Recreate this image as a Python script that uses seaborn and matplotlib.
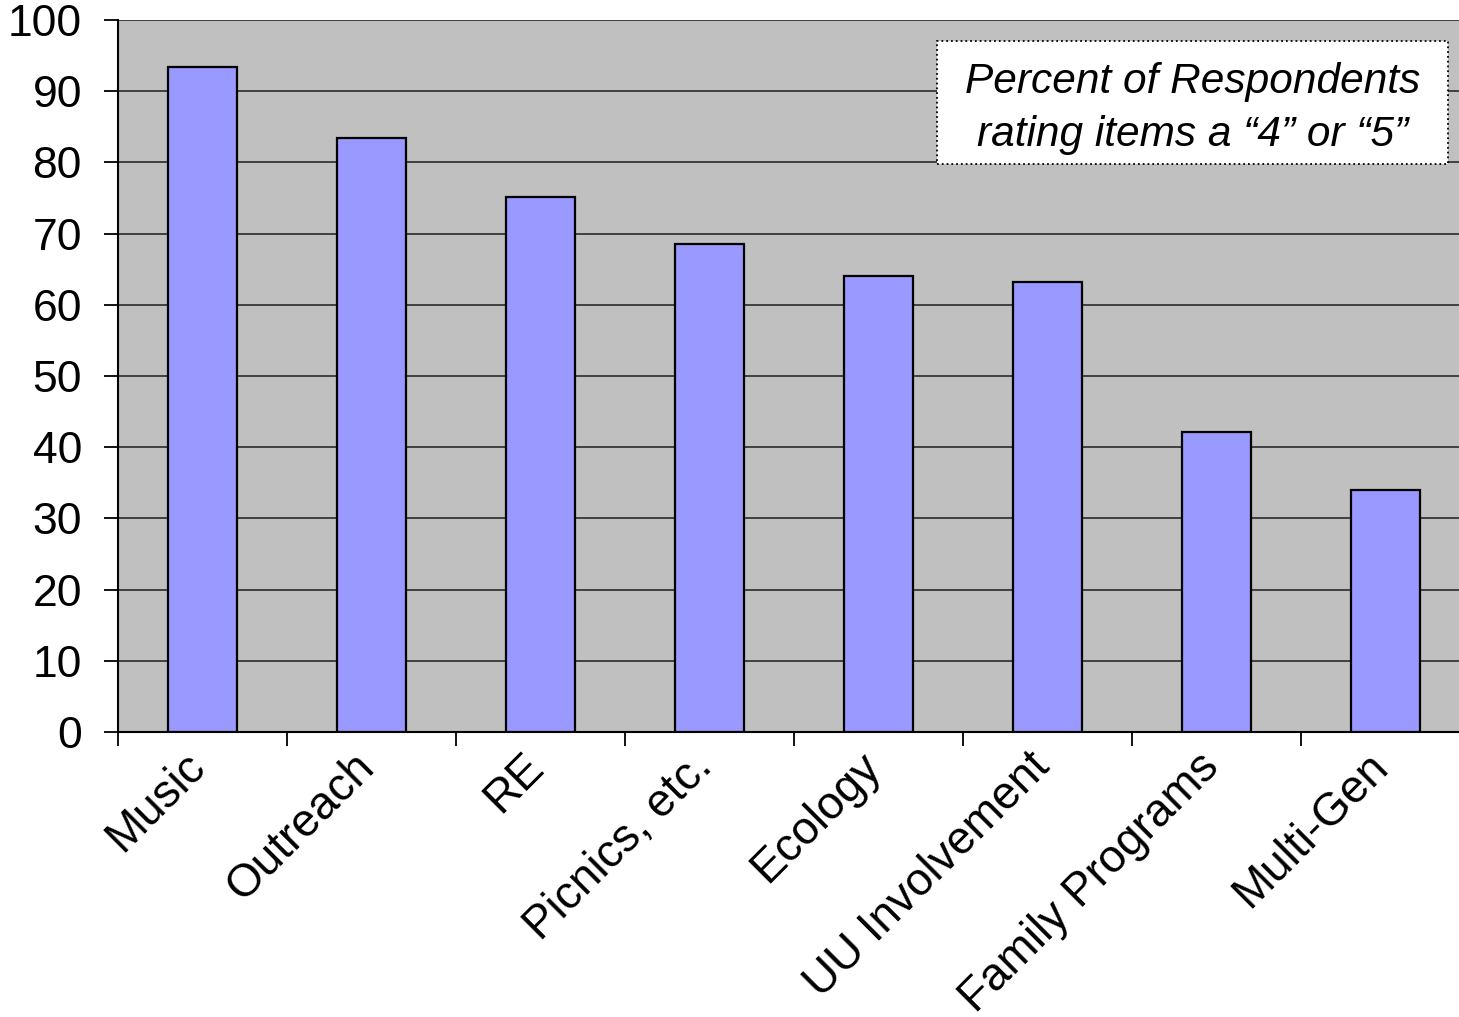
import seaborn as sns
import matplotlib.pyplot as plt
from matplotlib.patches import Rectangle
from matplotlib.transforms import ScaledTranslation

categories = ["Music", "Outreach", "RE", "Picnics, etc.", "Ecology",
              "UU Involvement", "Family Programs", "Multi-Gen"]
percents = [93.4, 83.4, 75.1, 68.5, 64.0, 63.2, 42.1, 34.0]
yticks = list(range(0, 101, 10))
note = "Percent of Respondents\nrating items a \u201c4\u201d or \u201c5\u201d"

sns.set_style("white")
plt.rcParams["font.family"] = ["Liberation Sans", "DejaVu Sans"]
plt.rcParams["text.color"] = "black"
plt.rcParams["xtick.color"] = "black"
plt.rcParams["ytick.color"] = "black"

fig = plt.figure(figsize=(14.59, 10.17), dpi=100)
# plot area runs off the right edge of the picture, like the original
ax = fig.add_axes([118 / 1459, 285 / 1017, 1352 / 1459, 712 / 1017])
ax.set_facecolor("#c0c0c0")

sns.barplot(x=categories, y=percents, color="#9999ff", saturation=1,
            edgecolor="black", linewidth=1.6, width=0.41, ax=ax, zorder=3)

ax.set_ylim(0, 100)
ax.set_xlim(-0.5, len(categories) - 0.5)
ax.set_yticks(yticks)
ax.yaxis.grid(True, color="#404040", linewidth=1.4, zorder=0)
ax.set_axisbelow(True)

# tick marks at category boundaries, labels drawn as rotated texts
ax.set_xticks([i - 0.5 for i in range(len(categories))])
ax.tick_params(axis="x", length=10, width=1.3, direction="out",
               bottom=True, labelbottom=False)
ax.tick_params(axis="y", length=10, width=1.3, pad=16, labelsize=32,
               direction="out", left=True)
ax.set_xlabel("")
ax.set_ylabel("")

offset = ScaledTranslation(-0.04, -0.28, fig.dpi_scale_trans)
for i, name in enumerate(categories):
    ax.text(i, 0, name, transform=ax.transData + offset, rotation=45,
            ha="right", va="center", rotation_mode="anchor", fontsize=33)

for side in ["top", "right"]:
    ax.spines[side].set_visible(False)
for side in ["left", "bottom"]:
    ax.spines[side].set_color("black")
    ax.spines[side].set_linewidth(1.5)

# note box
box = Rectangle((0.6058, 0.7978), 0.378, 0.1728, transform=ax.transAxes,
                facecolor="white", edgecolor="black", linestyle=":",
                linewidth=1.3, zorder=5)
ax.add_patch(box)
ax.text(0.6058 + 0.189, 0.7978 + 0.078, note, transform=ax.transAxes,
        fontsize=30.5, style="italic", ha="center", va="center",
        linespacing=1.43, zorder=6)

fig.savefig("out.png", dpi=100)
